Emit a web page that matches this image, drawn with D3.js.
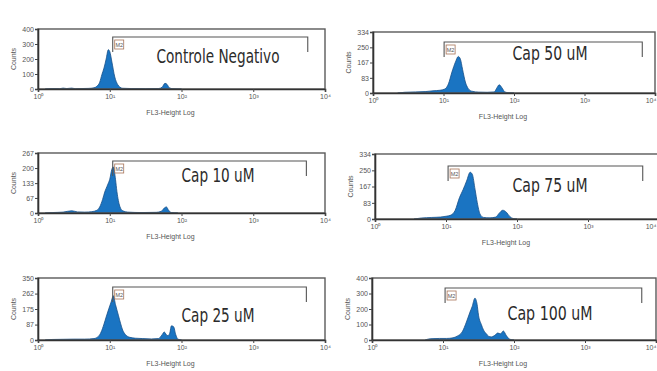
<!DOCTYPE html>
<html>
<head>
<meta charset="utf-8">
<script src="https://cdn.jsdelivr.net/npm/d3@7"></script>
<style>
  html, body { margin: 0; padding: 0; background: #fff; }
  svg { display: block; }
  .tick text { font-family: "Liberation Sans", Arial, sans-serif; }
</style>
</head>
<body>
<svg id="chart" width="657" height="371"></svg>
<script>
// ---- data -------------------------------------------------------------
const panelTitles = ["Controle Negativo", "Cap 50 uM", "Cap 10 uM", "Cap 75 uM", "Cap 25 uM", "Cap 100 uM"];

// count-axis tick values for each histogram
const countTicks = [
  [0, 100, 200, 300, 400],
  [0, 83, 167, 250, 334],
  [0, 67, 133, 200, 267],
  [0, 83, 167, 250, 334],
  [0, 87, 175, 262, 350],
  [0, 100, 200, 300, 400]
];

const decadeValues = [1, 10, 100, 1000, 10000];
const decadeLabels = ["10\u2070", "10\u00B9", "10\u00B2", "10\u00B3", "10\u2074"];

const xAxisTitle = "FL3-Height Log";
const yAxisTitle = "Counts";
const markerName = "M2";

// M2 marker limits (FL3 intensity)
const markerM2 = [
  [11, 5750], [10.2, 6600], [11, 5500], [10.7, 5900], [11, 5500], [10.7, 6300]
];

// histogram outlines: [log10 FL3 channel, counts]
const negControl = [[0.10,0],[0.20,3],[0.30,2],[0.35,6],[0.40,3],[0.47,6],[0.52,2],[0.60,3],[0.70,4],[0.78,8],[0.82,18],[0.86,45],[0.89,95],[0.92,140],[0.95,200],[0.98,262],[1.00,250],[1.03,180],[1.07,80],[1.11,30],[1.14,13],[1.18,5],[1.30,3],[1.50,2],[1.68,3],[1.73,12],[1.77,38],[1.80,30],[1.83,8],[1.88,2],[2.00,0]];
const cap50 = [[0.35,0],[0.45,4],[0.60,6],[0.75,8],[0.85,12],[0.95,15],[1.02,22],[1.07,50],[1.12,115],[1.17,170],[1.21,200],[1.24,185],[1.27,130],[1.31,60],[1.35,25],[1.40,10],[1.50,5],[1.62,4],[1.72,6],[1.76,30],[1.79,45],[1.83,28],[1.87,6],[1.93,1],[2.00,0]];
const cap10 = [[0.10,0],[0.20,2],[0.35,4],[0.47,10],[0.55,5],[0.65,4],[0.75,6],[0.82,12],[0.86,27],[0.90,60],[0.93,93],[0.97,125],[1.00,150],[1.03,195],[1.05,205],[1.08,150],[1.10,95],[1.14,30],[1.18,10],[1.25,4],[1.45,2],[1.65,3],[1.72,8],[1.76,22],[1.79,27],[1.82,12],[1.86,2],[1.95,0]];
const cap75 = [[0.55,0],[0.65,5],[0.80,8],[0.92,10],[1.00,14],[1.07,20],[1.13,45],[1.19,110],[1.24,150],[1.29,195],[1.34,240],[1.37,230],[1.41,150],[1.44,85],[1.48,25],[1.53,8],[1.62,6],[1.70,10],[1.75,30],[1.80,45],[1.85,35],[1.90,12],[1.95,2],[2.00,0]];
const cap25 = [[0.10,0],[0.20,3],[0.35,4],[0.50,5],[0.65,5],[0.78,8],[0.84,20],[0.88,45],[0.92,90],[0.95,130],[0.99,180],[1.02,215],[1.05,250],[1.08,200],[1.12,140],[1.15,95],[1.18,56],[1.22,30],[1.28,15],[1.36,10],[1.46,8],[1.58,6],[1.68,8],[1.73,30],[1.76,45],[1.80,25],[1.83,30],[1.86,80],[1.89,75],[1.92,30],[1.95,5],[2.00,0]];
const cap100 = [[0.75,0],[0.82,8],[0.95,10],[1.05,10],[1.14,14],[1.20,25],[1.27,52],[1.33,116],[1.38,180],[1.41,215],[1.45,270],[1.48,230],[1.50,160],[1.54,100],[1.57,65],[1.61,40],[1.64,25],[1.68,20],[1.73,30],[1.77,45],[1.81,40],[1.85,58],[1.89,30],[1.94,5],[2.00,0]];

const histograms = [negControl, cap50, cap10, cap75, cap25, cap100];

// ---- layout -----------------------------------------------------------
const W = 657;
const frames = [
  { left: 38,  right: 325, top: 29,  bottom: 89,  barY: 37,  titleX: 218, titleY: 63,  titleW: 123 },
  { left: 373, right: 655, top: 32,  bottom: 93,  barY: 42,  titleX: 550, titleY: 60,  titleW: 75 },
  { left: 38,  right: 325, top: 153, bottom: 213, barY: 161, titleX: 218, titleY: 182, titleW: 73 },
  { left: 375, right: 659, top: 154, bottom: 219, barY: 166, titleX: 550, titleY: 192, titleW: 75 },
  { left: 38,  right: 325, top: 278, bottom: 340, barY: 287, titleX: 218, titleY: 322, titleW: 73 },
  { left: 372, right: 656, top: 278, bottom: 340, barY: 288, titleX: 550, titleY: 320, titleW: 85 }
];

const svg = d3.select("#chart");
const fillBlue = "#1a74c2";
const edgeBlue = "#174f88";
const frameGrey = "#5a5a5a";

frames.forEach((f, i) => {
  const ticks = countTicks[i];
  const x = d3.scaleLog().domain([1, 10000]).range([f.left, f.right]);
  const y = d3.scaleLinear().domain([0, ticks[ticks.length - 1]]).range([f.bottom, f.top]);
  const g = svg.append("g");

  // histogram
  const area = d3.area()
    .x(d => x(Math.pow(10, d[0])))
    .y0(y(0))
    .y1(d => y(d[1]))
    .curve(d3.curveMonotoneX);
  g.append("path")
    .datum(histograms[i])
    .attr("d", area)
    .attr("fill", fillBlue)
    .attr("stroke", edgeBlue)
    .attr("stroke-width", 0.8);

  // frame
  g.append("rect")
    .attr("x", f.left).attr("y", f.top)
    .attr("width", f.right - f.left).attr("height", f.bottom - f.top)
    .attr("fill", "none").attr("stroke", frameGrey).attr("stroke-width", 1.4);

  // axes
  const yAxis = d3.axisLeft(y).tickValues(ticks).tickSize(3).tickFormat(d3.format("d"));
  const xAxis = d3.axisBottom(x).tickValues(decadeValues).tickSize(3)
    .tickFormat((d, k) => decadeLabels[k]);

  const ya = g.append("g").attr("transform", `translate(${f.left},0)`).call(yAxis);
  const xa = g.append("g").attr("transform", `translate(0,${f.bottom})`).call(xAxis);
  [ya, xa].forEach(a => {
    a.select(".domain").attr("stroke", "#333").attr("stroke-width", 1.6);
    a.selectAll(".tick line").attr("stroke", "#444");
    a.selectAll(".tick text").attr("font-size", 7).attr("fill", "#555");
  });
  ya.selectAll(".tick text").attr("x", -4);
  xa.selectAll(".tick text").attr("y", 5);

  // keep the last decade label inside the page for the right-hand column
  xa.selectAll(".tick")
    .filter(d => x(d) + 6 > W)
    .select("text")
    .attr("text-anchor", "end")
    .attr("dx", d => (W - 1 - x(d)) + "px");

  // axis titles
  g.append("text")
    .attr("x", (f.left + f.right) / 2 - 11)
    .attr("y", f.bottom + 26)
    .attr("text-anchor", "middle")
    .attr("font-family", "Liberation Sans, Arial, sans-serif")
    .attr("font-size", 7).attr("fill", "#555")
    .text(xAxisTitle);
  g.append("text")
    .attr("transform", `translate(${f.left - 22},${(f.top + f.bottom) / 2}) rotate(-90)`)
    .attr("text-anchor", "middle")
    .attr("font-family", "Liberation Sans, Arial, sans-serif")
    .attr("font-size", 7).attr("fill", "#555")
    .text(yAxisTitle);

  // M2 marker bracket
  const [m0, m1] = markerM2[i].map(v => x(v));
  const drop = 15;
  g.append("path")
    .attr("d", `M${m0},${f.barY + drop}V${f.barY}H${m1}V${f.barY + drop}`)
    .attr("fill", "none").attr("stroke", "#555").attr("stroke-width", 1.1);
  g.append("rect")
    .attr("x", m0 + 2).attr("y", f.barY + 3)
    .attr("width", 9).attr("height", 9)
    .attr("fill", "none").attr("stroke", "#a87458").attr("stroke-width", 0.8);
  g.append("text")
    .attr("x", m0 + 6.5).attr("y", f.barY + 10)
    .attr("text-anchor", "middle")
    .attr("font-family", "Liberation Sans, Arial, sans-serif")
    .attr("font-size", 5.5).attr("fill", "#555")
    .text(markerName);

  // sample title
  g.append("text")
    .attr("x", f.titleX - f.titleW / 2).attr("y", f.titleY)
    .attr("textLength", f.titleW).attr("lengthAdjust", "spacingAndGlyphs")
    .attr("font-family", "Liberation Sans Narrow, DejaVu Sans Condensed, Liberation Sans, sans-serif")
    .attr("font-size", 19).attr("fill", "#2b2b2b")
    .text(panelTitles[i]);
});
</script>
</body>
</html>
